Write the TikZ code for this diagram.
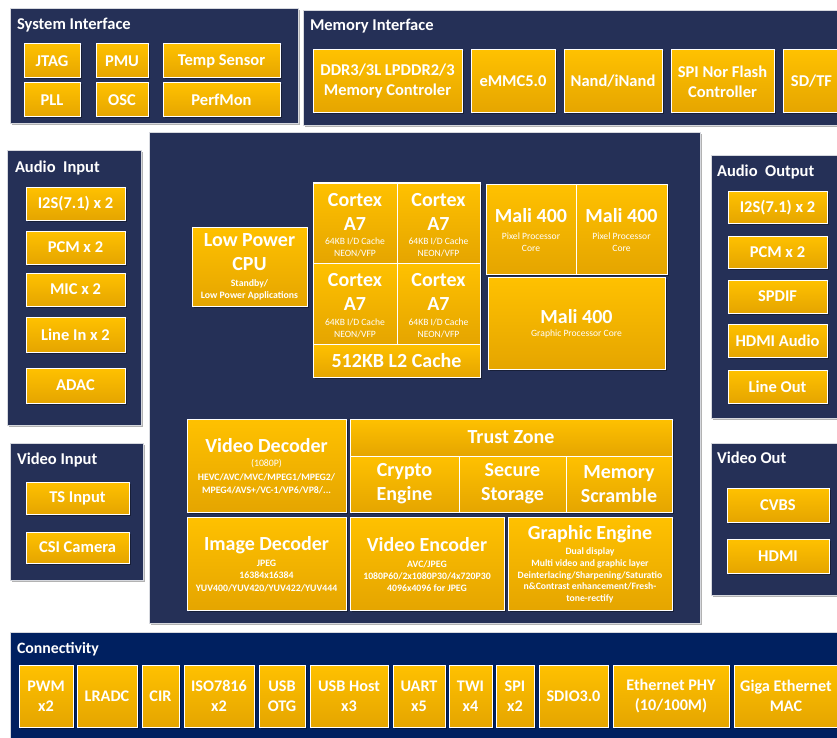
\documentclass[tikz,border=0pt]{standalone}
\usepackage{fontspec}
\setmainfont{Carlito}
\usetikzlibrary{shadows}
\definecolor{panelblue}{RGB}{37,48,87}
\definecolor{connblue}{RGB}{0,32,96}
\definecolor{goldtop}{RGB}{255,193,0}
\definecolor{goldbot}{RGB}{229,165,0}
\definecolor{rimgray}{RGB}{214,216,222}

\begin{document}
\begin{tikzpicture}[x=1pt,y=-1pt,wh/.style 2 args={minimum width=#1,minimum height=#2}]
\tikzstyle{every node}+=[inner sep=0pt,outer sep=0pt]
\tikzstyle{panel}=[fill=panelblue,draw=rimgray,line width=0.8pt,drop shadow={shadow xshift=2pt,shadow yshift=-2pt,fill=black,opacity=0.3}]
\tikzstyle{ptitle}=[anchor=base west,text=white,font=\fontsize{16.5}{19}\selectfont\bfseries]
\tikzstyle{box}=[draw=white,line width=1pt,top color=goldtop,bottom color=goldbot,text=white,align=center,font=\fontsize{16.5}{20}\selectfont\bfseries,drop shadow={shadow xshift=1.5pt,shadow yshift=-1.5pt,fill=black,opacity=0.35}]
\tikzstyle{big}=[text=white,align=center,font=\fontsize{20}{23.5}\selectfont\bfseries]
\tikzstyle{sub}=[text=white,align=center,font=\fontsize{9.6}{12}\selectfont]
\tikzstyle{subb}=[text=white,align=center,font=\fontsize{9.8}{12.3}\selectfont\bfseries]
\useasboundingbox (0,0) rectangle (837,738);

% panels
\path [panel] (10,8) rectangle (298,123);
\path [panel] (303,10) rectangle (845,125);
\path [panel] (7,150) rectangle (141,425);
\path [panel] (10,443) rectangle (143,580);
\path [panel] (149,132) rectangle (700,623);
\path [panel] (711,155) rectangle (845,418);
\path [panel] (711,443) rectangle (845,595);
\path [panel,fill=connblue] (10,632) rectangle (845,745);

\node [ptitle] (sysif) at (17,30) {System Interface};
\node [ptitle] (memif) at (310,31) {Memory Interface};
\node [ptitle] (audin) at (15,172) {Audio~ Input};
\node [ptitle] (vidin) at (17,464) {Video Input};
\node [ptitle] (audout) at (717,176) {Audio~ Output};
\node [ptitle] (vidout) at (717,463) {Video Out};
\node [ptitle,font=\fontsize{15.8}{18}\selectfont\bfseries] (conn) at (17,653) {Connectivity};

% system interface
\node [box,wh={56}{34}] (jtag) at (52,61) {JTAG};
\node [box,wh={52}{34}] (pmu) at (122,61) {PMU};
\node [box,wh={117}{34}] (temp) at (221.5,61) {Temp Sensor};
\node [box,wh={56}{34}] (pll) at (52,100) {PLL};
\node [box,wh={52}{34}] (osc) at (122,100) {OSC};
\node [box,wh={117}{34}] (perfmon) at (221.5,100) {PerfMon};

% memory interface
\node [box,wh={149}{63}] (ddr) at (387.5,81.5) {DDR3/3L LPDDR2/3\\Memory Controler};
\node [box,wh={84}{63}] (emmc) at (513,81.5) {eMMC5.0};
\node [box,wh={98}{63}] (nand) at (613,81.5) {Nand/iNand};
\node [box,wh={103}{63}] (spinor) at (722.5,81.5) {SPI Nor Flash\\Controller};
\node [box,wh={57}{63}] (sdtf) at (811.5,81.5) {SD/TF};

% audio input
\node [box,wh={99}{33}] (i2sin) at (75.5,203.5) {I2S(7.1) x 2};
\node [box,wh={99}{33}] (pcmin) at (75.5,247.5) {PCM x 2};
\node [box,wh={99}{33}] (mic) at (75.5,289.5) {MIC x 2};
\node [box,wh={99}{35}] (linein) at (75.5,334.5) {Line In x 2};
\node [box,wh={99}{35}] (adac) at (75.5,385.5) {ADAC};

% video input
\node [box,wh={103}{32}] (tsin) at (77.5,498) {TS Input};
\node [box,wh={103}{31}] (csi) at (77.5,547.5) {CSI Camera};

% audio output
\node [box,wh={99}{32}] (i2sout) at (777.5,207.5) {I2S(7.1) x 2};
\node [box,wh={99}{32}] (pcmout) at (777.5,252) {PCM x 2};
\node [box,wh={99}{33}] (spdif) at (777.5,296.5) {SPDIF};
\node [box,wh={99}{33}] (hdmiaud) at (777.5,340.5) {HDMI Audio};
\node [box,wh={99}{33}] (lineout) at (777.5,386.5) {Line Out};

% video out
\node [box,wh={102}{34}] (cvbs) at (778,505) {CVBS};
\node [box,wh={102}{34}] (hdmi) at (778,556) {HDMI};

% core: cpu and gpu
\node [box,wh={115}{79}] (lpcpu) at (249.5,266.5) {};
\node [big] (lpcput) at (249.5,252) {Low Power\\CPU};
\node [subb] (lpcpus) at (249.5,290) {Standby/\\Low Power Applications};
\node [box,wh={84}{80}] (cpu1) at (355,223) {};
\node [box,wh={83}{80}] (cpu2) at (438.5,223) {};
\node [box,wh={84}{81}] (cpu3) at (355,303.5) {};
\node [box,wh={83}{81}] (cpu4) at (438.5,303.5) {};
\node [big] (cpu1t) at (355,212) {Cortex\\A7};
\node [big] (cpu2t) at (438.5,212) {Cortex\\A7};
\node [big] (cpu3t) at (355,292) {Cortex\\A7};
\node [big] (cpu4t) at (438.5,292) {Cortex\\A7};
\node [sub] (cpu1s) at (355,247) {64KB I/D Cache\\NEON/VFP};
\node [sub] (cpu2s) at (438.5,247) {64KB I/D Cache\\NEON/VFP};
\node [sub] (cpu3s) at (355,328) {64KB I/D Cache\\NEON/VFP};
\node [sub] (cpu4s) at (438.5,328) {64KB I/D Cache\\NEON/VFP};
\node [box,wh={167}{33},font=\fontsize{20}{23.5}\selectfont\bfseries] (l2) at (396.5,360.5) {512KB L2 Cache};
\node [box,wh={90}{90}] (mali1) at (531,229) {};
\node [box,wh={91}{90}] (mali2) at (621.5,229) {};
\node [box,wh={177}{92}] (mali3) at (576.5,323) {};
\node [big] (mali1t) at (531,216) {Mali 400};
\node [big] (mali2t) at (621.5,216) {Mali 400};
\node [big] (mali3t) at (576.5,317) {Mali 400};
\node [sub] (mali1s) at (531,242) {Pixel Processor\\Core};
\node [sub] (mali2s) at (621.5,242) {Pixel Processor\\Core};
\node [sub] (mali3s) at (576.5,334) {Graphic Processor Core};

% core: multimedia and security
\node [box,wh={159}{93}] (vdec) at (266.5,465.5) {};
\node [big] (vdect) at (266.5,446) {Video Decoder};
\node [subb,font=\fontsize{9.8}{13.5}\selectfont\bfseries] (vdecs) at (266.5,477) {\mdseries(1080P)\\HEVC/AVC/MVC/MPEG1/MPEG2/\\MPEG4/AVS+/VC-1/VP6/VP8/...};
\node [box,wh={322}{37},font=\fontsize{20}{23.5}\selectfont\bfseries] (tz) at (511,437.5) {Trust Zone};
\node [box,wh={109}{56},font=\fontsize{20}{24}\selectfont\bfseries] (crypto) at (404.5,484) {Crypto\\Engine};
\node [box,wh={107}{56},font=\fontsize{20}{24}\selectfont\bfseries] (secure) at (512.5,484) {Secure\\Storage};
\node [box,wh={106}{56},font=\fontsize{20}{24}\selectfont\bfseries] (scramble) at (619,484) {Memory\\Scramble};
\node [box,wh={159}{93}] (idec) at (266.5,563.5) {};
\node [big] (idect) at (266.5,545) {Image Decoder};
\node [subb] (idecs) at (266.5,576) {JPEG\\16384x16384\\YUV400/YUV420/YUV422/YUV444};
\node [box,wh={154}{93}] (venc) at (427,563.5) {};
\node [big] (venct) at (427,545) {Video Encoder};
\node [subb] (vencs) at (427,576) {AVC/JPEG\\1080P60/2x1080P30/4x720P30\\4096x4096 for JPEG};
\node [box,wh={164}{93}] (gfx) at (590,563.5) {};
\node [big] (gfxt) at (590,534) {Graphic Engine};
\node [subb,font=\fontsize{9.7}{11.6}\selectfont\bfseries] (gfxs) at (590,575.5) {Dual display\\Multi video and graphic layer\\Deinterlacing/Sharpening/Saturatio\\n\&Contrast enhancement/Fresh-\\tone-rectify};

% connectivity
\node [box,wh={54}{62},font=\fontsize{16.2}{20}\selectfont\bfseries] (pwm) at (46,696) {PWM\\x2};
\node [box,wh={60}{62},font=\fontsize{16.2}{20}\selectfont\bfseries] (lradc) at (107,696) {LRADC};
\node [box,wh={37}{62},font=\fontsize{16.2}{20}\selectfont\bfseries] (cir) at (160.5,696) {CIR};
\node [box,wh={70}{62},font=\fontsize{16.2}{20}\selectfont\bfseries] (iso) at (219,696) {ISO7816\\x2};
\node [box,wh={46}{62},font=\fontsize{16.2}{20}\selectfont\bfseries] (usbotg) at (282,696) {USB\\OTG};
\node [box,wh={78}{62},font=\fontsize{16.2}{20}\selectfont\bfseries] (usbhost) at (349,696) {USB Host\\x3};
\node [box,wh={52}{62},font=\fontsize{16.2}{20}\selectfont\bfseries] (uart) at (419,696) {UART\\x5};
\node [box,wh={43}{62},font=\fontsize{16.2}{20}\selectfont\bfseries] (twi) at (470.5,696) {TWI\\x4};
\node [box,wh={38}{62},font=\fontsize{16.2}{20}\selectfont\bfseries] (spi) at (515,696) {SPI\\x2};
\node [box,wh={69}{62},font=\fontsize{16.2}{20}\selectfont\bfseries] (sdio) at (573.5,696) {SDIO3.0};
\node [box,wh={116}{62},font=\fontsize{16.2}{20}\selectfont\bfseries] (ethphy) at (671,696) {Ethernet PHY\\(10/100M)};
\node [box,wh={104}{62},font=\fontsize{16.2}{20}\selectfont\bfseries] (gmac) at (786,696) {Giga Ethernet\\MAC};
\end{tikzpicture}
\end{document}
